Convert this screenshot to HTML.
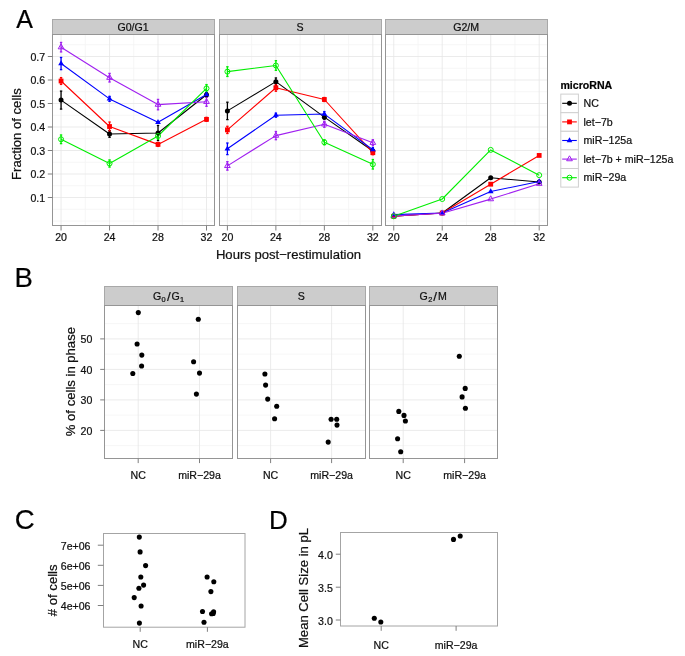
<!DOCTYPE html>
<html><head><meta charset="utf-8"><title>Figure</title>
<style>
html,body{margin:0;padding:0;background:#fff;width:685px;height:656px;overflow:hidden;}
svg{display:block;font-family:"Liberation Sans", sans-serif;will-change:transform;}
text{stroke:#111;stroke-width:0.22px;}
</style></head>
<body>
<svg width="685" height="656" viewBox="0 0 685 656">
<rect x="0" y="0" width="685" height="656" fill="#fff"/>
<rect x="52.5" y="19.5" width="162" height="15" fill="#cccccc" stroke="#a8a8a8" stroke-width="1"/>
<text x="133.1" y="30.9" font-size="10.6" text-anchor="middle" fill="#111111" font-weight="normal" >G0/G1</text>
<rect x="52.5" y="34.5" width="162" height="191" fill="#fff"/>
<line x1="52.5" y1="221" x2="214.5" y2="221" stroke="#f4f4f4" stroke-width="0.8" />
<line x1="52.5" y1="209.25" x2="214.5" y2="209.25" stroke="#f4f4f4" stroke-width="0.8" />
<line x1="52.5" y1="185.75" x2="214.5" y2="185.75" stroke="#f4f4f4" stroke-width="0.8" />
<line x1="52.5" y1="162.25" x2="214.5" y2="162.25" stroke="#f4f4f4" stroke-width="0.8" />
<line x1="52.5" y1="138.75" x2="214.5" y2="138.75" stroke="#f4f4f4" stroke-width="0.8" />
<line x1="52.5" y1="115.25" x2="214.5" y2="115.25" stroke="#f4f4f4" stroke-width="0.8" />
<line x1="52.5" y1="91.75" x2="214.5" y2="91.75" stroke="#f4f4f4" stroke-width="0.8" />
<line x1="52.5" y1="68.25" x2="214.5" y2="68.25" stroke="#f4f4f4" stroke-width="0.8" />
<line x1="52.5" y1="44.75" x2="214.5" y2="44.75" stroke="#f4f4f4" stroke-width="0.8" />
<line x1="85.3" y1="34.5" x2="85.3" y2="225.5" stroke="#f4f4f4" stroke-width="0.8" />
<line x1="133.78" y1="34.5" x2="133.78" y2="225.5" stroke="#f4f4f4" stroke-width="0.8" />
<line x1="182.26" y1="34.5" x2="182.26" y2="225.5" stroke="#f4f4f4" stroke-width="0.8" />
<line x1="52.5" y1="197.5" x2="214.5" y2="197.5" stroke="#e6e6e6" stroke-width="0.8" />
<line x1="52.5" y1="174" x2="214.5" y2="174" stroke="#e6e6e6" stroke-width="0.8" />
<line x1="52.5" y1="150.5" x2="214.5" y2="150.5" stroke="#e6e6e6" stroke-width="0.8" />
<line x1="52.5" y1="127" x2="214.5" y2="127" stroke="#e6e6e6" stroke-width="0.8" />
<line x1="52.5" y1="103.5" x2="214.5" y2="103.5" stroke="#e6e6e6" stroke-width="0.8" />
<line x1="52.5" y1="80" x2="214.5" y2="80" stroke="#e6e6e6" stroke-width="0.8" />
<line x1="52.5" y1="56.5" x2="214.5" y2="56.5" stroke="#e6e6e6" stroke-width="0.8" />
<line x1="61.06" y1="34.5" x2="61.06" y2="225.5" stroke="#e6e6e6" stroke-width="0.8" />
<line x1="109.54" y1="34.5" x2="109.54" y2="225.5" stroke="#e6e6e6" stroke-width="0.8" />
<line x1="158.02" y1="34.5" x2="158.02" y2="225.5" stroke="#e6e6e6" stroke-width="0.8" />
<line x1="206.5" y1="34.5" x2="206.5" y2="225.5" stroke="#e6e6e6" stroke-width="0.8" />
<polyline points="61.06,100.09 109.54,134 158.02,132.99 206.5,94.8" fill="none" stroke="#000000" stroke-width="1.1" stroke-linejoin="round"/>
<polyline points="61.06,81.01 109.54,126.51 158.02,144.39 206.5,119.36" fill="none" stroke="#ff0000" stroke-width="1.1" stroke-linejoin="round"/>
<polyline points="61.06,63.55 109.54,98.89 158.02,122.3 206.5,94.5" fill="none" stroke="#0000ff" stroke-width="1.1" stroke-linejoin="round"/>
<polyline points="61.06,47.19 109.54,77.7 158.02,104.6 206.5,101.81" fill="none" stroke="#a020f0" stroke-width="1.1" stroke-linejoin="round"/>
<polyline points="61.06,139.29 109.54,163.5 158.02,136 206.5,88.39" fill="none" stroke="#00ee00" stroke-width="1.1" stroke-linejoin="round"/>
<line x1="61.06" y1="91.09" x2="61.06" y2="109.09" stroke="#000000" stroke-width="1.3" />
<line x1="59.86" y1="91.09" x2="62.26" y2="91.09" stroke="#000000" stroke-width="1.3" />
<line x1="59.86" y1="109.09" x2="62.26" y2="109.09" stroke="#000000" stroke-width="1.3" />
<line x1="109.54" y1="130.7" x2="109.54" y2="137.3" stroke="#000000" stroke-width="1.3" />
<line x1="108.34" y1="130.7" x2="110.74" y2="130.7" stroke="#000000" stroke-width="1.3" />
<line x1="108.34" y1="137.3" x2="110.74" y2="137.3" stroke="#000000" stroke-width="1.3" />
<line x1="158.02" y1="125.49" x2="158.02" y2="140.49" stroke="#000000" stroke-width="1.3" />
<line x1="156.82" y1="125.49" x2="159.22" y2="125.49" stroke="#000000" stroke-width="1.3" />
<line x1="156.82" y1="140.49" x2="159.22" y2="140.49" stroke="#000000" stroke-width="1.3" />
<line x1="206.5" y1="92.8" x2="206.5" y2="96.8" stroke="#000000" stroke-width="1.3" />
<line x1="205.3" y1="92.8" x2="207.7" y2="92.8" stroke="#000000" stroke-width="1.3" />
<line x1="205.3" y1="96.8" x2="207.7" y2="96.8" stroke="#000000" stroke-width="1.3" />
<line x1="61.06" y1="77.61" x2="61.06" y2="84.41" stroke="#ff0000" stroke-width="1.3" />
<line x1="59.86" y1="77.61" x2="62.26" y2="77.61" stroke="#ff0000" stroke-width="1.3" />
<line x1="59.86" y1="84.41" x2="62.26" y2="84.41" stroke="#ff0000" stroke-width="1.3" />
<line x1="109.54" y1="122.01" x2="109.54" y2="131.01" stroke="#ff0000" stroke-width="1.3" />
<line x1="108.34" y1="122.01" x2="110.74" y2="122.01" stroke="#ff0000" stroke-width="1.3" />
<line x1="108.34" y1="131.01" x2="110.74" y2="131.01" stroke="#ff0000" stroke-width="1.3" />
<line x1="158.02" y1="142.39" x2="158.02" y2="146.39" stroke="#ff0000" stroke-width="1.3" />
<line x1="156.82" y1="142.39" x2="159.22" y2="142.39" stroke="#ff0000" stroke-width="1.3" />
<line x1="156.82" y1="146.39" x2="159.22" y2="146.39" stroke="#ff0000" stroke-width="1.3" />
<line x1="206.5" y1="117.36" x2="206.5" y2="121.36" stroke="#ff0000" stroke-width="1.3" />
<line x1="205.3" y1="117.36" x2="207.7" y2="117.36" stroke="#ff0000" stroke-width="1.3" />
<line x1="205.3" y1="121.36" x2="207.7" y2="121.36" stroke="#ff0000" stroke-width="1.3" />
<line x1="61.06" y1="57.45" x2="61.06" y2="69.65" stroke="#0000ff" stroke-width="1.3" />
<line x1="59.86" y1="57.45" x2="62.26" y2="57.45" stroke="#0000ff" stroke-width="1.3" />
<line x1="59.86" y1="69.65" x2="62.26" y2="69.65" stroke="#0000ff" stroke-width="1.3" />
<line x1="109.54" y1="96.39" x2="109.54" y2="101.39" stroke="#0000ff" stroke-width="1.3" />
<line x1="108.34" y1="96.39" x2="110.74" y2="96.39" stroke="#0000ff" stroke-width="1.3" />
<line x1="108.34" y1="101.39" x2="110.74" y2="101.39" stroke="#0000ff" stroke-width="1.3" />
<line x1="206.5" y1="92.5" x2="206.5" y2="96.5" stroke="#0000ff" stroke-width="1.3" />
<line x1="205.3" y1="92.5" x2="207.7" y2="92.5" stroke="#0000ff" stroke-width="1.3" />
<line x1="205.3" y1="96.5" x2="207.7" y2="96.5" stroke="#0000ff" stroke-width="1.3" />
<line x1="61.06" y1="42.44" x2="61.06" y2="51.94" stroke="#a020f0" stroke-width="1.3" />
<line x1="59.86" y1="42.44" x2="62.26" y2="42.44" stroke="#a020f0" stroke-width="1.3" />
<line x1="59.86" y1="51.94" x2="62.26" y2="51.94" stroke="#a020f0" stroke-width="1.3" />
<line x1="109.54" y1="73.4" x2="109.54" y2="82" stroke="#a020f0" stroke-width="1.3" />
<line x1="108.34" y1="73.4" x2="110.74" y2="73.4" stroke="#a020f0" stroke-width="1.3" />
<line x1="108.34" y1="82" x2="110.74" y2="82" stroke="#a020f0" stroke-width="1.3" />
<line x1="158.02" y1="99.4" x2="158.02" y2="109.8" stroke="#a020f0" stroke-width="1.3" />
<line x1="156.82" y1="99.4" x2="159.22" y2="99.4" stroke="#a020f0" stroke-width="1.3" />
<line x1="156.82" y1="109.8" x2="159.22" y2="109.8" stroke="#a020f0" stroke-width="1.3" />
<line x1="206.5" y1="97.31" x2="206.5" y2="106.31" stroke="#a020f0" stroke-width="1.3" />
<line x1="205.3" y1="97.31" x2="207.7" y2="97.31" stroke="#a020f0" stroke-width="1.3" />
<line x1="205.3" y1="106.31" x2="207.7" y2="106.31" stroke="#a020f0" stroke-width="1.3" />
<line x1="61.06" y1="134.94" x2="61.06" y2="143.64" stroke="#00ee00" stroke-width="1.3" />
<line x1="59.86" y1="134.94" x2="62.26" y2="134.94" stroke="#00ee00" stroke-width="1.3" />
<line x1="59.86" y1="143.64" x2="62.26" y2="143.64" stroke="#00ee00" stroke-width="1.3" />
<line x1="109.54" y1="159.9" x2="109.54" y2="167.1" stroke="#00ee00" stroke-width="1.3" />
<line x1="108.34" y1="159.9" x2="110.74" y2="159.9" stroke="#00ee00" stroke-width="1.3" />
<line x1="108.34" y1="167.1" x2="110.74" y2="167.1" stroke="#00ee00" stroke-width="1.3" />
<line x1="158.02" y1="133" x2="158.02" y2="139" stroke="#00ee00" stroke-width="1.3" />
<line x1="156.82" y1="133" x2="159.22" y2="133" stroke="#00ee00" stroke-width="1.3" />
<line x1="156.82" y1="139" x2="159.22" y2="139" stroke="#00ee00" stroke-width="1.3" />
<line x1="206.5" y1="84.59" x2="206.5" y2="92.19" stroke="#00ee00" stroke-width="1.3" />
<line x1="205.3" y1="84.59" x2="207.7" y2="84.59" stroke="#00ee00" stroke-width="1.3" />
<line x1="205.3" y1="92.19" x2="207.7" y2="92.19" stroke="#00ee00" stroke-width="1.3" />
<circle cx="61.06" cy="100.09" r="2.5" fill="#000000"/>
<circle cx="109.54" cy="134" r="2.5" fill="#000000"/>
<circle cx="158.02" cy="132.99" r="2.5" fill="#000000"/>
<circle cx="206.5" cy="94.8" r="2.5" fill="#000000"/>
<rect x="58.66" y="78.61" width="4.8" height="4.8" fill="#ff0000"/>
<rect x="107.14" y="124.11" width="4.8" height="4.8" fill="#ff0000"/>
<rect x="155.62" y="141.99" width="4.8" height="4.8" fill="#ff0000"/>
<rect x="204.1" y="116.96" width="4.8" height="4.8" fill="#ff0000"/>
<polygon points="61.06,60.25 63.92,65.2 58.2,65.2" fill="#0000ff"/>
<polygon points="109.54,95.59 112.4,100.54 106.68,100.54" fill="#0000ff"/>
<polygon points="158.02,119 160.88,123.95 155.16,123.95" fill="#0000ff"/>
<polygon points="206.5,91.2 209.36,96.15 203.64,96.15" fill="#0000ff"/>
<polygon points="61.06,43.89 63.92,48.84 58.2,48.84" fill="none" stroke="#a020f0" stroke-width="1"/>
<polygon points="109.54,74.4 112.4,79.35 106.68,79.35" fill="none" stroke="#a020f0" stroke-width="1"/>
<polygon points="158.02,101.3 160.88,106.25 155.16,106.25" fill="none" stroke="#a020f0" stroke-width="1"/>
<polygon points="206.5,98.51 209.36,103.46 203.64,103.46" fill="none" stroke="#a020f0" stroke-width="1"/>
<circle cx="61.06" cy="139.29" r="2.5" fill="none" stroke="#00ee00" stroke-width="1"/>
<circle cx="109.54" cy="163.5" r="2.5" fill="none" stroke="#00ee00" stroke-width="1"/>
<circle cx="158.02" cy="136" r="2.5" fill="none" stroke="#00ee00" stroke-width="1"/>
<circle cx="206.5" cy="88.39" r="2.5" fill="none" stroke="#00ee00" stroke-width="1"/>
<rect x="52.5" y="34.5" width="162" height="191" fill="none" stroke="#959595" stroke-width="1"/>
<line x1="61.06" y1="225.5" x2="61.06" y2="230.5" stroke="#7f7f7f" stroke-width="1" />
<text x="61.06" y="241" font-size="10.6" text-anchor="middle" fill="#111111" font-weight="normal" >20</text>
<line x1="109.54" y1="225.5" x2="109.54" y2="230.5" stroke="#7f7f7f" stroke-width="1" />
<text x="109.54" y="241" font-size="10.6" text-anchor="middle" fill="#111111" font-weight="normal" >24</text>
<line x1="158.02" y1="225.5" x2="158.02" y2="230.5" stroke="#7f7f7f" stroke-width="1" />
<text x="158.02" y="241" font-size="10.6" text-anchor="middle" fill="#111111" font-weight="normal" >28</text>
<line x1="206.5" y1="225.5" x2="206.5" y2="230.5" stroke="#7f7f7f" stroke-width="1" />
<text x="206.5" y="241" font-size="10.6" text-anchor="middle" fill="#111111" font-weight="normal" >32</text>
<rect x="219.5" y="19.5" width="162" height="15" fill="#cccccc" stroke="#a8a8a8" stroke-width="1"/>
<text x="300.1" y="30.9" font-size="10.6" text-anchor="middle" fill="#111111" font-weight="normal" >S</text>
<rect x="219.5" y="34.5" width="162" height="191" fill="#fff"/>
<line x1="219.5" y1="221" x2="381.5" y2="221" stroke="#f4f4f4" stroke-width="0.8" />
<line x1="219.5" y1="209.25" x2="381.5" y2="209.25" stroke="#f4f4f4" stroke-width="0.8" />
<line x1="219.5" y1="185.75" x2="381.5" y2="185.75" stroke="#f4f4f4" stroke-width="0.8" />
<line x1="219.5" y1="162.25" x2="381.5" y2="162.25" stroke="#f4f4f4" stroke-width="0.8" />
<line x1="219.5" y1="138.75" x2="381.5" y2="138.75" stroke="#f4f4f4" stroke-width="0.8" />
<line x1="219.5" y1="115.25" x2="381.5" y2="115.25" stroke="#f4f4f4" stroke-width="0.8" />
<line x1="219.5" y1="91.75" x2="381.5" y2="91.75" stroke="#f4f4f4" stroke-width="0.8" />
<line x1="219.5" y1="68.25" x2="381.5" y2="68.25" stroke="#f4f4f4" stroke-width="0.8" />
<line x1="219.5" y1="44.75" x2="381.5" y2="44.75" stroke="#f4f4f4" stroke-width="0.8" />
<line x1="251.64" y1="34.5" x2="251.64" y2="225.5" stroke="#f4f4f4" stroke-width="0.8" />
<line x1="300.12" y1="34.5" x2="300.12" y2="225.5" stroke="#f4f4f4" stroke-width="0.8" />
<line x1="348.6" y1="34.5" x2="348.6" y2="225.5" stroke="#f4f4f4" stroke-width="0.8" />
<line x1="219.5" y1="197.5" x2="381.5" y2="197.5" stroke="#e6e6e6" stroke-width="0.8" />
<line x1="219.5" y1="174" x2="381.5" y2="174" stroke="#e6e6e6" stroke-width="0.8" />
<line x1="219.5" y1="150.5" x2="381.5" y2="150.5" stroke="#e6e6e6" stroke-width="0.8" />
<line x1="219.5" y1="127" x2="381.5" y2="127" stroke="#e6e6e6" stroke-width="0.8" />
<line x1="219.5" y1="103.5" x2="381.5" y2="103.5" stroke="#e6e6e6" stroke-width="0.8" />
<line x1="219.5" y1="80" x2="381.5" y2="80" stroke="#e6e6e6" stroke-width="0.8" />
<line x1="219.5" y1="56.5" x2="381.5" y2="56.5" stroke="#e6e6e6" stroke-width="0.8" />
<line x1="227.4" y1="34.5" x2="227.4" y2="225.5" stroke="#e6e6e6" stroke-width="0.8" />
<line x1="275.88" y1="34.5" x2="275.88" y2="225.5" stroke="#e6e6e6" stroke-width="0.8" />
<line x1="324.36" y1="34.5" x2="324.36" y2="225.5" stroke="#e6e6e6" stroke-width="0.8" />
<line x1="372.84" y1="34.5" x2="372.84" y2="225.5" stroke="#e6e6e6" stroke-width="0.8" />
<polyline points="227.4,110.9 275.88,81.64 324.36,117.13 372.84,150.97" fill="none" stroke="#000000" stroke-width="1.1" stroke-linejoin="round"/>
<polyline points="227.4,129.89 275.88,87.75 324.36,99.5 372.84,152.71" fill="none" stroke="#ff0000" stroke-width="1.1" stroke-linejoin="round"/>
<polyline points="227.4,148.81 275.88,115.2 324.36,114.07 372.84,149.7" fill="none" stroke="#0000ff" stroke-width="1.1" stroke-linejoin="round"/>
<polyline points="227.4,165.89 275.88,135.6 324.36,124.3 372.84,142.75" fill="none" stroke="#a020f0" stroke-width="1.1" stroke-linejoin="round"/>
<polyline points="227.4,71.61 275.88,65.5 324.36,142.27 372.84,164.29" fill="none" stroke="#00ee00" stroke-width="1.1" stroke-linejoin="round"/>
<line x1="227.4" y1="102.2" x2="227.4" y2="119.6" stroke="#000000" stroke-width="1.3" />
<line x1="226.2" y1="102.2" x2="228.6" y2="102.2" stroke="#000000" stroke-width="1.3" />
<line x1="226.2" y1="119.6" x2="228.6" y2="119.6" stroke="#000000" stroke-width="1.3" />
<line x1="275.88" y1="77.94" x2="275.88" y2="85.34" stroke="#000000" stroke-width="1.3" />
<line x1="274.68" y1="77.94" x2="277.08" y2="77.94" stroke="#000000" stroke-width="1.3" />
<line x1="274.68" y1="85.34" x2="277.08" y2="85.34" stroke="#000000" stroke-width="1.3" />
<line x1="324.36" y1="115.13" x2="324.36" y2="119.13" stroke="#000000" stroke-width="1.3" />
<line x1="323.16" y1="115.13" x2="325.56" y2="115.13" stroke="#000000" stroke-width="1.3" />
<line x1="323.16" y1="119.13" x2="325.56" y2="119.13" stroke="#000000" stroke-width="1.3" />
<line x1="372.84" y1="148.97" x2="372.84" y2="152.97" stroke="#000000" stroke-width="1.3" />
<line x1="371.64" y1="148.97" x2="374.04" y2="148.97" stroke="#000000" stroke-width="1.3" />
<line x1="371.64" y1="152.97" x2="374.04" y2="152.97" stroke="#000000" stroke-width="1.3" />
<line x1="227.4" y1="126.29" x2="227.4" y2="133.49" stroke="#ff0000" stroke-width="1.3" />
<line x1="226.2" y1="126.29" x2="228.6" y2="126.29" stroke="#ff0000" stroke-width="1.3" />
<line x1="226.2" y1="133.49" x2="228.6" y2="133.49" stroke="#ff0000" stroke-width="1.3" />
<line x1="275.88" y1="84.25" x2="275.88" y2="91.25" stroke="#ff0000" stroke-width="1.3" />
<line x1="274.68" y1="84.25" x2="277.08" y2="84.25" stroke="#ff0000" stroke-width="1.3" />
<line x1="274.68" y1="91.25" x2="277.08" y2="91.25" stroke="#ff0000" stroke-width="1.3" />
<line x1="324.36" y1="97.5" x2="324.36" y2="101.5" stroke="#ff0000" stroke-width="1.3" />
<line x1="323.16" y1="97.5" x2="325.56" y2="97.5" stroke="#ff0000" stroke-width="1.3" />
<line x1="323.16" y1="101.5" x2="325.56" y2="101.5" stroke="#ff0000" stroke-width="1.3" />
<line x1="372.84" y1="150.71" x2="372.84" y2="154.71" stroke="#ff0000" stroke-width="1.3" />
<line x1="371.64" y1="150.71" x2="374.04" y2="150.71" stroke="#ff0000" stroke-width="1.3" />
<line x1="371.64" y1="154.71" x2="374.04" y2="154.71" stroke="#ff0000" stroke-width="1.3" />
<line x1="227.4" y1="143.01" x2="227.4" y2="154.61" stroke="#0000ff" stroke-width="1.3" />
<line x1="226.2" y1="143.01" x2="228.6" y2="143.01" stroke="#0000ff" stroke-width="1.3" />
<line x1="226.2" y1="154.61" x2="228.6" y2="154.61" stroke="#0000ff" stroke-width="1.3" />
<line x1="275.88" y1="113.2" x2="275.88" y2="117.2" stroke="#0000ff" stroke-width="1.3" />
<line x1="274.68" y1="113.2" x2="277.08" y2="113.2" stroke="#0000ff" stroke-width="1.3" />
<line x1="274.68" y1="117.2" x2="277.08" y2="117.2" stroke="#0000ff" stroke-width="1.3" />
<line x1="324.36" y1="111.57" x2="324.36" y2="116.57" stroke="#0000ff" stroke-width="1.3" />
<line x1="323.16" y1="111.57" x2="325.56" y2="111.57" stroke="#0000ff" stroke-width="1.3" />
<line x1="323.16" y1="116.57" x2="325.56" y2="116.57" stroke="#0000ff" stroke-width="1.3" />
<line x1="372.84" y1="147.7" x2="372.84" y2="151.7" stroke="#0000ff" stroke-width="1.3" />
<line x1="371.64" y1="147.7" x2="374.04" y2="147.7" stroke="#0000ff" stroke-width="1.3" />
<line x1="371.64" y1="151.7" x2="374.04" y2="151.7" stroke="#0000ff" stroke-width="1.3" />
<line x1="227.4" y1="161.64" x2="227.4" y2="170.14" stroke="#a020f0" stroke-width="1.3" />
<line x1="226.2" y1="161.64" x2="228.6" y2="161.64" stroke="#a020f0" stroke-width="1.3" />
<line x1="226.2" y1="170.14" x2="228.6" y2="170.14" stroke="#a020f0" stroke-width="1.3" />
<line x1="275.88" y1="131.5" x2="275.88" y2="139.7" stroke="#a020f0" stroke-width="1.3" />
<line x1="274.68" y1="131.5" x2="277.08" y2="131.5" stroke="#a020f0" stroke-width="1.3" />
<line x1="274.68" y1="139.7" x2="277.08" y2="139.7" stroke="#a020f0" stroke-width="1.3" />
<line x1="324.36" y1="121.3" x2="324.36" y2="127.3" stroke="#a020f0" stroke-width="1.3" />
<line x1="323.16" y1="121.3" x2="325.56" y2="121.3" stroke="#a020f0" stroke-width="1.3" />
<line x1="323.16" y1="127.3" x2="325.56" y2="127.3" stroke="#a020f0" stroke-width="1.3" />
<line x1="372.84" y1="139.75" x2="372.84" y2="145.75" stroke="#a020f0" stroke-width="1.3" />
<line x1="371.64" y1="139.75" x2="374.04" y2="139.75" stroke="#a020f0" stroke-width="1.3" />
<line x1="371.64" y1="145.75" x2="374.04" y2="145.75" stroke="#a020f0" stroke-width="1.3" />
<line x1="227.4" y1="66.76" x2="227.4" y2="76.46" stroke="#00ee00" stroke-width="1.3" />
<line x1="226.2" y1="66.76" x2="228.6" y2="66.76" stroke="#00ee00" stroke-width="1.3" />
<line x1="226.2" y1="76.46" x2="228.6" y2="76.46" stroke="#00ee00" stroke-width="1.3" />
<line x1="275.88" y1="60.65" x2="275.88" y2="70.35" stroke="#00ee00" stroke-width="1.3" />
<line x1="274.68" y1="60.65" x2="277.08" y2="60.65" stroke="#00ee00" stroke-width="1.3" />
<line x1="274.68" y1="70.35" x2="277.08" y2="70.35" stroke="#00ee00" stroke-width="1.3" />
<line x1="324.36" y1="139.77" x2="324.36" y2="144.77" stroke="#00ee00" stroke-width="1.3" />
<line x1="323.16" y1="139.77" x2="325.56" y2="139.77" stroke="#00ee00" stroke-width="1.3" />
<line x1="323.16" y1="144.77" x2="325.56" y2="144.77" stroke="#00ee00" stroke-width="1.3" />
<line x1="372.84" y1="159.54" x2="372.84" y2="169.04" stroke="#00ee00" stroke-width="1.3" />
<line x1="371.64" y1="159.54" x2="374.04" y2="159.54" stroke="#00ee00" stroke-width="1.3" />
<line x1="371.64" y1="169.04" x2="374.04" y2="169.04" stroke="#00ee00" stroke-width="1.3" />
<circle cx="227.4" cy="110.9" r="2.5" fill="#000000"/>
<circle cx="275.88" cy="81.64" r="2.5" fill="#000000"/>
<circle cx="324.36" cy="117.13" r="2.5" fill="#000000"/>
<circle cx="372.84" cy="150.97" r="2.5" fill="#000000"/>
<rect x="225" y="127.49" width="4.8" height="4.8" fill="#ff0000"/>
<rect x="273.48" y="85.35" width="4.8" height="4.8" fill="#ff0000"/>
<rect x="321.96" y="97.1" width="4.8" height="4.8" fill="#ff0000"/>
<rect x="370.44" y="150.31" width="4.8" height="4.8" fill="#ff0000"/>
<polygon points="227.4,145.51 230.26,150.46 224.54,150.46" fill="#0000ff"/>
<polygon points="275.88,111.9 278.74,116.85 273.02,116.85" fill="#0000ff"/>
<polygon points="324.36,110.77 327.22,115.72 321.5,115.72" fill="#0000ff"/>
<polygon points="372.84,146.4 375.7,151.35 369.98,151.35" fill="#0000ff"/>
<polygon points="227.4,162.59 230.26,167.54 224.54,167.54" fill="none" stroke="#a020f0" stroke-width="1"/>
<polygon points="275.88,132.3 278.74,137.25 273.02,137.25" fill="none" stroke="#a020f0" stroke-width="1"/>
<polygon points="324.36,121 327.22,125.95 321.5,125.95" fill="none" stroke="#a020f0" stroke-width="1"/>
<polygon points="372.84,139.44 375.7,144.4 369.98,144.4" fill="none" stroke="#a020f0" stroke-width="1"/>
<circle cx="227.4" cy="71.61" r="2.5" fill="none" stroke="#00ee00" stroke-width="1"/>
<circle cx="275.88" cy="65.5" r="2.5" fill="none" stroke="#00ee00" stroke-width="1"/>
<circle cx="324.36" cy="142.27" r="2.5" fill="none" stroke="#00ee00" stroke-width="1"/>
<circle cx="372.84" cy="164.29" r="2.5" fill="none" stroke="#00ee00" stroke-width="1"/>
<rect x="219.5" y="34.5" width="162" height="191" fill="none" stroke="#959595" stroke-width="1"/>
<line x1="227.4" y1="225.5" x2="227.4" y2="230.5" stroke="#7f7f7f" stroke-width="1" />
<text x="227.4" y="241" font-size="10.6" text-anchor="middle" fill="#111111" font-weight="normal" >20</text>
<line x1="275.88" y1="225.5" x2="275.88" y2="230.5" stroke="#7f7f7f" stroke-width="1" />
<text x="275.88" y="241" font-size="10.6" text-anchor="middle" fill="#111111" font-weight="normal" >24</text>
<line x1="324.36" y1="225.5" x2="324.36" y2="230.5" stroke="#7f7f7f" stroke-width="1" />
<text x="324.36" y="241" font-size="10.6" text-anchor="middle" fill="#111111" font-weight="normal" >28</text>
<line x1="372.84" y1="225.5" x2="372.84" y2="230.5" stroke="#7f7f7f" stroke-width="1" />
<text x="372.84" y="241" font-size="10.6" text-anchor="middle" fill="#111111" font-weight="normal" >32</text>
<rect x="385.5" y="19.5" width="162" height="15" fill="#cccccc" stroke="#a8a8a8" stroke-width="1"/>
<text x="466.1" y="30.9" font-size="10.6" text-anchor="middle" fill="#111111" font-weight="normal" >G2/M</text>
<rect x="385.5" y="34.5" width="162" height="191" fill="#fff"/>
<line x1="385.5" y1="221" x2="547.5" y2="221" stroke="#f4f4f4" stroke-width="0.8" />
<line x1="385.5" y1="209.25" x2="547.5" y2="209.25" stroke="#f4f4f4" stroke-width="0.8" />
<line x1="385.5" y1="185.75" x2="547.5" y2="185.75" stroke="#f4f4f4" stroke-width="0.8" />
<line x1="385.5" y1="162.25" x2="547.5" y2="162.25" stroke="#f4f4f4" stroke-width="0.8" />
<line x1="385.5" y1="138.75" x2="547.5" y2="138.75" stroke="#f4f4f4" stroke-width="0.8" />
<line x1="385.5" y1="115.25" x2="547.5" y2="115.25" stroke="#f4f4f4" stroke-width="0.8" />
<line x1="385.5" y1="91.75" x2="547.5" y2="91.75" stroke="#f4f4f4" stroke-width="0.8" />
<line x1="385.5" y1="68.25" x2="547.5" y2="68.25" stroke="#f4f4f4" stroke-width="0.8" />
<line x1="385.5" y1="44.75" x2="547.5" y2="44.75" stroke="#f4f4f4" stroke-width="0.8" />
<line x1="417.99" y1="34.5" x2="417.99" y2="225.5" stroke="#f4f4f4" stroke-width="0.8" />
<line x1="466.47" y1="34.5" x2="466.47" y2="225.5" stroke="#f4f4f4" stroke-width="0.8" />
<line x1="514.95" y1="34.5" x2="514.95" y2="225.5" stroke="#f4f4f4" stroke-width="0.8" />
<line x1="385.5" y1="197.5" x2="547.5" y2="197.5" stroke="#e6e6e6" stroke-width="0.8" />
<line x1="385.5" y1="174" x2="547.5" y2="174" stroke="#e6e6e6" stroke-width="0.8" />
<line x1="385.5" y1="150.5" x2="547.5" y2="150.5" stroke="#e6e6e6" stroke-width="0.8" />
<line x1="385.5" y1="127" x2="547.5" y2="127" stroke="#e6e6e6" stroke-width="0.8" />
<line x1="385.5" y1="103.5" x2="547.5" y2="103.5" stroke="#e6e6e6" stroke-width="0.8" />
<line x1="385.5" y1="80" x2="547.5" y2="80" stroke="#e6e6e6" stroke-width="0.8" />
<line x1="385.5" y1="56.5" x2="547.5" y2="56.5" stroke="#e6e6e6" stroke-width="0.8" />
<line x1="393.75" y1="34.5" x2="393.75" y2="225.5" stroke="#e6e6e6" stroke-width="0.8" />
<line x1="442.23" y1="34.5" x2="442.23" y2="225.5" stroke="#e6e6e6" stroke-width="0.8" />
<line x1="490.71" y1="34.5" x2="490.71" y2="225.5" stroke="#e6e6e6" stroke-width="0.8" />
<line x1="539.19" y1="34.5" x2="539.19" y2="225.5" stroke="#e6e6e6" stroke-width="0.8" />
<polyline points="393.75,216.3 442.23,213.01 490.71,177.81 539.19,181.99" fill="none" stroke="#000000" stroke-width="1.1" stroke-linejoin="round"/>
<polyline points="393.75,216.3 442.23,213.01 490.71,184.2 539.19,155.44" fill="none" stroke="#ff0000" stroke-width="1.1" stroke-linejoin="round"/>
<polyline points="393.75,214.65 442.23,213.01 490.71,191.51 539.19,181.52" fill="none" stroke="#0000ff" stroke-width="1.1" stroke-linejoin="round"/>
<polyline points="393.75,216.06 442.23,213.24 490.71,199.1 539.19,183.71" fill="none" stroke="#a020f0" stroke-width="1.1" stroke-linejoin="round"/>
<polyline points="393.75,216.3 442.23,199 490.71,149.89 539.19,175.17" fill="none" stroke="#00ee00" stroke-width="1.1" stroke-linejoin="round"/>
<circle cx="393.75" cy="216.3" r="2.5" fill="#000000"/>
<circle cx="442.23" cy="213.01" r="2.5" fill="#000000"/>
<circle cx="490.71" cy="177.81" r="2.5" fill="#000000"/>
<circle cx="539.19" cy="181.99" r="2.5" fill="#000000"/>
<rect x="391.35" y="213.9" width="4.8" height="4.8" fill="#ff0000"/>
<rect x="439.83" y="210.61" width="4.8" height="4.8" fill="#ff0000"/>
<rect x="488.31" y="181.8" width="4.8" height="4.8" fill="#ff0000"/>
<rect x="536.79" y="153.03" width="4.8" height="4.8" fill="#ff0000"/>
<polygon points="393.75,211.35 396.61,216.3 390.89,216.3" fill="#0000ff"/>
<polygon points="442.23,209.71 445.09,214.66 439.37,214.66" fill="#0000ff"/>
<polygon points="490.71,188.21 493.57,193.16 487.85,193.16" fill="#0000ff"/>
<polygon points="539.19,178.22 542.05,183.17 536.33,183.17" fill="#0000ff"/>
<polygon points="393.75,212.76 396.61,217.72 390.89,217.72" fill="none" stroke="#a020f0" stroke-width="1"/>
<polygon points="442.23,209.94 445.09,214.89 439.37,214.89" fill="none" stroke="#a020f0" stroke-width="1"/>
<polygon points="490.71,195.8 493.57,200.75 487.85,200.75" fill="none" stroke="#a020f0" stroke-width="1"/>
<polygon points="539.19,180.41 542.05,185.36 536.33,185.36" fill="none" stroke="#a020f0" stroke-width="1"/>
<circle cx="393.75" cy="216.3" r="2.5" fill="none" stroke="#00ee00" stroke-width="1"/>
<circle cx="442.23" cy="199" r="2.5" fill="none" stroke="#00ee00" stroke-width="1"/>
<circle cx="490.71" cy="149.89" r="2.5" fill="none" stroke="#00ee00" stroke-width="1"/>
<circle cx="539.19" cy="175.17" r="2.5" fill="none" stroke="#00ee00" stroke-width="1"/>
<rect x="385.5" y="34.5" width="162" height="191" fill="none" stroke="#959595" stroke-width="1"/>
<line x1="393.75" y1="225.5" x2="393.75" y2="230.5" stroke="#7f7f7f" stroke-width="1" />
<text x="393.75" y="241" font-size="10.6" text-anchor="middle" fill="#111111" font-weight="normal" >20</text>
<line x1="442.23" y1="225.5" x2="442.23" y2="230.5" stroke="#7f7f7f" stroke-width="1" />
<text x="442.23" y="241" font-size="10.6" text-anchor="middle" fill="#111111" font-weight="normal" >24</text>
<line x1="490.71" y1="225.5" x2="490.71" y2="230.5" stroke="#7f7f7f" stroke-width="1" />
<text x="490.71" y="241" font-size="10.6" text-anchor="middle" fill="#111111" font-weight="normal" >28</text>
<line x1="539.19" y1="225.5" x2="539.19" y2="230.5" stroke="#7f7f7f" stroke-width="1" />
<text x="539.19" y="241" font-size="10.6" text-anchor="middle" fill="#111111" font-weight="normal" >32</text>
<line x1="47.8" y1="197.5" x2="52.6" y2="197.5" stroke="#7f7f7f" stroke-width="1" />
<text x="45.2" y="201.7" font-size="10.6" text-anchor="end" fill="#111111" font-weight="normal" >0.1</text>
<line x1="47.8" y1="174" x2="52.6" y2="174" stroke="#7f7f7f" stroke-width="1" />
<text x="45.2" y="178.2" font-size="10.6" text-anchor="end" fill="#111111" font-weight="normal" >0.2</text>
<line x1="47.8" y1="150.5" x2="52.6" y2="150.5" stroke="#7f7f7f" stroke-width="1" />
<text x="45.2" y="154.7" font-size="10.6" text-anchor="end" fill="#111111" font-weight="normal" >0.3</text>
<line x1="47.8" y1="127" x2="52.6" y2="127" stroke="#7f7f7f" stroke-width="1" />
<text x="45.2" y="131.2" font-size="10.6" text-anchor="end" fill="#111111" font-weight="normal" >0.4</text>
<line x1="47.8" y1="103.5" x2="52.6" y2="103.5" stroke="#7f7f7f" stroke-width="1" />
<text x="45.2" y="107.7" font-size="10.6" text-anchor="end" fill="#111111" font-weight="normal" >0.5</text>
<line x1="47.8" y1="80" x2="52.6" y2="80" stroke="#7f7f7f" stroke-width="1" />
<text x="45.2" y="84.2" font-size="10.6" text-anchor="end" fill="#111111" font-weight="normal" >0.6</text>
<line x1="47.8" y1="56.5" x2="52.6" y2="56.5" stroke="#7f7f7f" stroke-width="1" />
<text x="45.2" y="60.7" font-size="10.6" text-anchor="end" fill="#111111" font-weight="normal" >0.7</text>
<text x="288.5" y="259.4" font-size="13.1" text-anchor="middle" fill="#111111" font-weight="normal" >Hours post−restimulation</text>
<text transform="translate(20.8,134.1) rotate(-90)" x="0" y="0" font-size="13.1" text-anchor="middle" fill="#111111">Fraction of cells</text>
<text x="16.2" y="28.4" font-size="25" text-anchor="start" fill="#000" font-weight="normal" >A</text>
<text x="560.4" y="89.2" font-size="10.6" text-anchor="start" fill="#000" font-weight="bold" >microRNA</text>
<rect x="560.8" y="94.1" width="17.6" height="18.6" fill="#fff" stroke="#cfcfcf" stroke-width="1"/>
<line x1="562.2" y1="103.3" x2="576.8" y2="103.3" stroke="#000000" stroke-width="1.1" />
<circle cx="569.5" cy="103.3" r="2.5" fill="#000000"/>
<text x="583.5" y="107" font-size="10.6" text-anchor="start" fill="#111111" font-weight="normal" >NC</text>
<rect x="560.8" y="112.7" width="17.6" height="18.6" fill="#fff" stroke="#cfcfcf" stroke-width="1"/>
<line x1="562.2" y1="121.9" x2="576.8" y2="121.9" stroke="#ff0000" stroke-width="1.1" />
<rect x="567.1" y="119.5" width="4.8" height="4.8" fill="#ff0000"/>
<text x="583.5" y="125.6" font-size="10.6" text-anchor="start" fill="#111111" font-weight="normal" >let−7b</text>
<rect x="560.8" y="131.3" width="17.6" height="18.6" fill="#fff" stroke="#cfcfcf" stroke-width="1"/>
<line x1="562.2" y1="140.5" x2="576.8" y2="140.5" stroke="#0000ff" stroke-width="1.1" />
<polygon points="569.5,137.2 572.36,142.15 566.64,142.15" fill="#0000ff"/>
<text x="583.5" y="144.2" font-size="10.6" text-anchor="start" fill="#111111" font-weight="normal" >miR−125a</text>
<rect x="560.8" y="149.9" width="17.6" height="18.6" fill="#fff" stroke="#cfcfcf" stroke-width="1"/>
<line x1="562.2" y1="159.1" x2="576.8" y2="159.1" stroke="#a020f0" stroke-width="1.1" />
<polygon points="569.5,155.8 572.36,160.75 566.64,160.75" fill="none" stroke="#a020f0" stroke-width="1"/>
<text x="583.5" y="162.8" font-size="10.6" text-anchor="start" fill="#111111" font-weight="normal" >let−7b + miR−125a</text>
<rect x="560.8" y="168.5" width="17.6" height="18.6" fill="#fff" stroke="#cfcfcf" stroke-width="1"/>
<line x1="562.2" y1="177.7" x2="576.8" y2="177.7" stroke="#00ee00" stroke-width="1.1" />
<circle cx="569.5" cy="177.7" r="2.5" fill="none" stroke="#00ee00" stroke-width="1"/>
<text x="583.5" y="181.4" font-size="10.6" text-anchor="start" fill="#111111" font-weight="normal" >miR−29a</text>
<rect x="104.5" y="286.5" width="128" height="19" fill="#cccccc" stroke="#a8a8a8" stroke-width="1"/>
<text y="299.8" font-size="10.6" fill="#111111"><tspan x="153.0">G</tspan><tspan x="161.6" y="301.8" font-size="7.4">0</tspan><tspan x="167.1" y="300.6" font-size="13.5">/</tspan><tspan x="171.6" y="299.8">G</tspan><tspan x="180.1" y="301.8" font-size="7.4">1</tspan></text>
<line x1="104.5" y1="445.65" x2="232.5" y2="445.65" stroke="#f4f4f4" stroke-width="0.8" />
<line x1="104.5" y1="415.15" x2="232.5" y2="415.15" stroke="#f4f4f4" stroke-width="0.8" />
<line x1="104.5" y1="384.65" x2="232.5" y2="384.65" stroke="#f4f4f4" stroke-width="0.8" />
<line x1="104.5" y1="354.15" x2="232.5" y2="354.15" stroke="#f4f4f4" stroke-width="0.8" />
<line x1="104.5" y1="323.65" x2="232.5" y2="323.65" stroke="#f4f4f4" stroke-width="0.8" />
<line x1="104.5" y1="430.4" x2="232.5" y2="430.4" stroke="#e6e6e6" stroke-width="0.8" />
<line x1="104.5" y1="399.9" x2="232.5" y2="399.9" stroke="#e6e6e6" stroke-width="0.8" />
<line x1="104.5" y1="369.4" x2="232.5" y2="369.4" stroke="#e6e6e6" stroke-width="0.8" />
<line x1="104.5" y1="338.9" x2="232.5" y2="338.9" stroke="#e6e6e6" stroke-width="0.8" />
<line x1="138.2" y1="305.5" x2="138.2" y2="458.5" stroke="#e6e6e6" stroke-width="0.8" />
<line x1="199.5" y1="305.5" x2="199.5" y2="458.5" stroke="#e6e6e6" stroke-width="0.8" />
<circle cx="138.3" cy="312.6" r="2.55" fill="#000"/>
<circle cx="137.1" cy="344" r="2.55" fill="#000"/>
<circle cx="141.8" cy="355.1" r="2.55" fill="#000"/>
<circle cx="141.6" cy="366" r="2.55" fill="#000"/>
<circle cx="132.8" cy="373.5" r="2.55" fill="#000"/>
<circle cx="198.3" cy="319.2" r="2.55" fill="#000"/>
<circle cx="193.6" cy="361.7" r="2.55" fill="#000"/>
<circle cx="199.5" cy="373.1" r="2.55" fill="#000"/>
<circle cx="196.4" cy="394.1" r="2.55" fill="#000"/>
<rect x="104.5" y="305.5" width="128" height="153" fill="none" stroke="#959595" stroke-width="1"/>
<line x1="138.2" y1="458.5" x2="138.2" y2="463.1" stroke="#7f7f7f" stroke-width="1" />
<text x="138.2" y="478.8" font-size="10.6" text-anchor="middle" fill="#111111" font-weight="normal" >NC</text>
<line x1="199.5" y1="458.5" x2="199.5" y2="463.1" stroke="#7f7f7f" stroke-width="1" />
<text x="199.5" y="478.8" font-size="10.6" text-anchor="middle" fill="#111111" font-weight="normal" >miR−29a</text>
<rect x="237.5" y="286.5" width="128" height="19" fill="#cccccc" stroke="#a8a8a8" stroke-width="1"/>
<text x="301.2" y="299.8" font-size="10.6" text-anchor="middle" fill="#111111" font-weight="normal" >S</text>
<line x1="237.5" y1="445.65" x2="365.5" y2="445.65" stroke="#f4f4f4" stroke-width="0.8" />
<line x1="237.5" y1="415.15" x2="365.5" y2="415.15" stroke="#f4f4f4" stroke-width="0.8" />
<line x1="237.5" y1="384.65" x2="365.5" y2="384.65" stroke="#f4f4f4" stroke-width="0.8" />
<line x1="237.5" y1="354.15" x2="365.5" y2="354.15" stroke="#f4f4f4" stroke-width="0.8" />
<line x1="237.5" y1="323.65" x2="365.5" y2="323.65" stroke="#f4f4f4" stroke-width="0.8" />
<line x1="237.5" y1="430.4" x2="365.5" y2="430.4" stroke="#e6e6e6" stroke-width="0.8" />
<line x1="237.5" y1="399.9" x2="365.5" y2="399.9" stroke="#e6e6e6" stroke-width="0.8" />
<line x1="237.5" y1="369.4" x2="365.5" y2="369.4" stroke="#e6e6e6" stroke-width="0.8" />
<line x1="237.5" y1="338.9" x2="365.5" y2="338.9" stroke="#e6e6e6" stroke-width="0.8" />
<line x1="270.6" y1="305.5" x2="270.6" y2="458.5" stroke="#e6e6e6" stroke-width="0.8" />
<line x1="331.6" y1="305.5" x2="331.6" y2="458.5" stroke="#e6e6e6" stroke-width="0.8" />
<circle cx="264.9" cy="374" r="2.55" fill="#000"/>
<circle cx="265.6" cy="385.1" r="2.55" fill="#000"/>
<circle cx="267.7" cy="399.1" r="2.55" fill="#000"/>
<circle cx="276.7" cy="406.2" r="2.55" fill="#000"/>
<circle cx="274.6" cy="418.7" r="2.55" fill="#000"/>
<circle cx="331.1" cy="419.2" r="2.55" fill="#000"/>
<circle cx="336.7" cy="419.2" r="2.55" fill="#000"/>
<circle cx="337" cy="425.1" r="2.55" fill="#000"/>
<circle cx="328.2" cy="442.1" r="2.55" fill="#000"/>
<rect x="237.5" y="305.5" width="128" height="153" fill="none" stroke="#959595" stroke-width="1"/>
<line x1="270.6" y1="458.5" x2="270.6" y2="463.1" stroke="#7f7f7f" stroke-width="1" />
<text x="270.6" y="478.8" font-size="10.6" text-anchor="middle" fill="#111111" font-weight="normal" >NC</text>
<line x1="331.6" y1="458.5" x2="331.6" y2="463.1" stroke="#7f7f7f" stroke-width="1" />
<text x="331.6" y="478.8" font-size="10.6" text-anchor="middle" fill="#111111" font-weight="normal" >miR−29a</text>
<rect x="369.5" y="286.5" width="128" height="19" fill="#cccccc" stroke="#a8a8a8" stroke-width="1"/>
<text y="299.8" font-size="10.6" fill="#111111"><tspan x="419.6">G</tspan><tspan x="428.2" y="301.8" font-size="7.4">2</tspan><tspan x="433.2" y="300.6" font-size="13.5">/</tspan><tspan x="438.0" y="299.8">M</tspan></text>
<line x1="369.5" y1="445.65" x2="497.5" y2="445.65" stroke="#f4f4f4" stroke-width="0.8" />
<line x1="369.5" y1="415.15" x2="497.5" y2="415.15" stroke="#f4f4f4" stroke-width="0.8" />
<line x1="369.5" y1="384.65" x2="497.5" y2="384.65" stroke="#f4f4f4" stroke-width="0.8" />
<line x1="369.5" y1="354.15" x2="497.5" y2="354.15" stroke="#f4f4f4" stroke-width="0.8" />
<line x1="369.5" y1="323.65" x2="497.5" y2="323.65" stroke="#f4f4f4" stroke-width="0.8" />
<line x1="369.5" y1="430.4" x2="497.5" y2="430.4" stroke="#e6e6e6" stroke-width="0.8" />
<line x1="369.5" y1="399.9" x2="497.5" y2="399.9" stroke="#e6e6e6" stroke-width="0.8" />
<line x1="369.5" y1="369.4" x2="497.5" y2="369.4" stroke="#e6e6e6" stroke-width="0.8" />
<line x1="369.5" y1="338.9" x2="497.5" y2="338.9" stroke="#e6e6e6" stroke-width="0.8" />
<line x1="403.2" y1="305.5" x2="403.2" y2="458.5" stroke="#e6e6e6" stroke-width="0.8" />
<line x1="464.6" y1="305.5" x2="464.6" y2="458.5" stroke="#e6e6e6" stroke-width="0.8" />
<circle cx="398.8" cy="411.4" r="2.55" fill="#000"/>
<circle cx="404" cy="415.4" r="2.55" fill="#000"/>
<circle cx="405.4" cy="421" r="2.55" fill="#000"/>
<circle cx="397.6" cy="438.8" r="2.55" fill="#000"/>
<circle cx="400.7" cy="451.8" r="2.55" fill="#000"/>
<circle cx="459.3" cy="356.3" r="2.55" fill="#000"/>
<circle cx="465.2" cy="388.4" r="2.55" fill="#000"/>
<circle cx="462.1" cy="396.9" r="2.55" fill="#000"/>
<circle cx="465.4" cy="408.3" r="2.55" fill="#000"/>
<rect x="369.5" y="305.5" width="128" height="153" fill="none" stroke="#959595" stroke-width="1"/>
<line x1="403.2" y1="458.5" x2="403.2" y2="463.1" stroke="#7f7f7f" stroke-width="1" />
<text x="403.2" y="478.8" font-size="10.6" text-anchor="middle" fill="#111111" font-weight="normal" >NC</text>
<line x1="464.6" y1="458.5" x2="464.6" y2="463.1" stroke="#7f7f7f" stroke-width="1" />
<text x="464.6" y="478.8" font-size="10.6" text-anchor="middle" fill="#111111" font-weight="normal" >miR−29a</text>
<line x1="100.2" y1="430.4" x2="104.8" y2="430.4" stroke="#7f7f7f" stroke-width="1" />
<text x="92.3" y="434.5" font-size="10.6" text-anchor="end" fill="#111111" font-weight="normal" >20</text>
<line x1="100.2" y1="399.9" x2="104.8" y2="399.9" stroke="#7f7f7f" stroke-width="1" />
<text x="92.3" y="404" font-size="10.6" text-anchor="end" fill="#111111" font-weight="normal" >30</text>
<line x1="100.2" y1="369.4" x2="104.8" y2="369.4" stroke="#7f7f7f" stroke-width="1" />
<text x="92.3" y="373.5" font-size="10.6" text-anchor="end" fill="#111111" font-weight="normal" >40</text>
<line x1="100.2" y1="338.9" x2="104.8" y2="338.9" stroke="#7f7f7f" stroke-width="1" />
<text x="92.3" y="343" font-size="10.6" text-anchor="end" fill="#111111" font-weight="normal" >50</text>
<text transform="translate(75.4,381.6) rotate(-90)" x="0" y="0" font-size="13.1" text-anchor="middle" fill="#111111">% of cells in phase</text>
<text x="14.4" y="286.5" font-size="27.5" text-anchor="start" fill="#000" font-weight="normal" >B</text>
<rect x="103.5" y="533.5" width="141.5" height="93.7" fill="#fff" stroke="#a4a4a4" stroke-width="1"/>
<circle cx="139.3" cy="537.1" r="2.55" fill="#000"/>
<circle cx="140.1" cy="551.9" r="2.55" fill="#000"/>
<circle cx="145.6" cy="565.6" r="2.55" fill="#000"/>
<circle cx="140.8" cy="577" r="2.55" fill="#000"/>
<circle cx="143.6" cy="585.1" r="2.55" fill="#000"/>
<circle cx="138.9" cy="588.2" r="2.55" fill="#000"/>
<circle cx="134.2" cy="597.6" r="2.55" fill="#000"/>
<circle cx="141.1" cy="606" r="2.55" fill="#000"/>
<circle cx="139.4" cy="623.1" r="2.55" fill="#000"/>
<circle cx="207.1" cy="577" r="2.55" fill="#000"/>
<circle cx="213.8" cy="581.7" r="2.55" fill="#000"/>
<circle cx="210.9" cy="591.6" r="2.55" fill="#000"/>
<circle cx="202.5" cy="611.5" r="2.55" fill="#000"/>
<circle cx="213.6" cy="611.7" r="2.55" fill="#000"/>
<circle cx="211.6" cy="613.8" r="2.55" fill="#000"/>
<circle cx="213.2" cy="613.4" r="2.55" fill="#000"/>
<circle cx="204" cy="622.3" r="2.55" fill="#000"/>
<line x1="97.8" y1="545.2" x2="103.4" y2="545.2" stroke="#7f7f7f" stroke-width="1" />
<text x="90.5" y="549.6" font-size="10.6" text-anchor="end" fill="#111111" font-weight="normal" >7e+06</text>
<line x1="97.8" y1="565.3" x2="103.4" y2="565.3" stroke="#7f7f7f" stroke-width="1" />
<text x="90.5" y="569.7" font-size="10.6" text-anchor="end" fill="#111111" font-weight="normal" >6e+06</text>
<line x1="97.8" y1="585.4" x2="103.4" y2="585.4" stroke="#7f7f7f" stroke-width="1" />
<text x="90.5" y="589.8" font-size="10.6" text-anchor="end" fill="#111111" font-weight="normal" >5e+06</text>
<line x1="97.8" y1="605.5" x2="103.4" y2="605.5" stroke="#7f7f7f" stroke-width="1" />
<text x="90.5" y="609.9" font-size="10.6" text-anchor="end" fill="#111111" font-weight="normal" >4e+06</text>
<line x1="140.2" y1="627.2" x2="140.2" y2="631.8" stroke="#7f7f7f" stroke-width="1" />
<text x="140.2" y="647.9" font-size="10.6" text-anchor="middle" fill="#111111" font-weight="normal" >NC</text>
<line x1="207.4" y1="627.2" x2="207.4" y2="631.8" stroke="#7f7f7f" stroke-width="1" />
<text x="207.4" y="647.9" font-size="10.6" text-anchor="middle" fill="#111111" font-weight="normal" >miR−29a</text>
<text transform="translate(56.6,590.3) rotate(-90)" x="0" y="0" font-size="13.1" text-anchor="middle" fill="#111111"># of cells</text>
<text x="14.8" y="528.8" font-size="27.5" text-anchor="start" fill="#000" font-weight="normal" >C</text>
<rect x="340.5" y="532.5" width="157" height="93.5" fill="#fff" stroke="#a4a4a4" stroke-width="1"/>
<circle cx="374.3" cy="618.2" r="2.55" fill="#000"/>
<circle cx="380.8" cy="622" r="2.55" fill="#000"/>
<circle cx="453.5" cy="539.4" r="2.55" fill="#000"/>
<circle cx="460.2" cy="536" r="2.55" fill="#000"/>
<line x1="335.8" y1="554.2" x2="340.5" y2="554.2" stroke="#7f7f7f" stroke-width="1" />
<text x="332.8" y="558.8" font-size="10.6" text-anchor="end" fill="#111111" font-weight="normal" >4.0</text>
<line x1="335.8" y1="587.2" x2="340.5" y2="587.2" stroke="#7f7f7f" stroke-width="1" />
<text x="332.8" y="591.8" font-size="10.6" text-anchor="end" fill="#111111" font-weight="normal" >3.5</text>
<line x1="335.8" y1="620" x2="340.5" y2="620" stroke="#7f7f7f" stroke-width="1" />
<text x="332.8" y="624.6" font-size="10.6" text-anchor="end" fill="#111111" font-weight="normal" >3.0</text>
<line x1="381.2" y1="626" x2="381.2" y2="630.8" stroke="#7f7f7f" stroke-width="1" />
<text x="381.2" y="648.7" font-size="10.6" text-anchor="middle" fill="#111111" font-weight="normal" >NC</text>
<line x1="456.1" y1="626" x2="456.1" y2="630.8" stroke="#7f7f7f" stroke-width="1" />
<text x="456.1" y="648.7" font-size="10.6" text-anchor="middle" fill="#111111" font-weight="normal" >miR−29a</text>
<text transform="translate(308.4,588.0) rotate(-90)" x="0" y="0" font-size="13.1" text-anchor="middle" fill="#111111">Mean Cell Size in pL</text>
<text x="269" y="528.7" font-size="26" text-anchor="start" fill="#000" font-weight="normal" >D</text>
</svg>
</body></html>
